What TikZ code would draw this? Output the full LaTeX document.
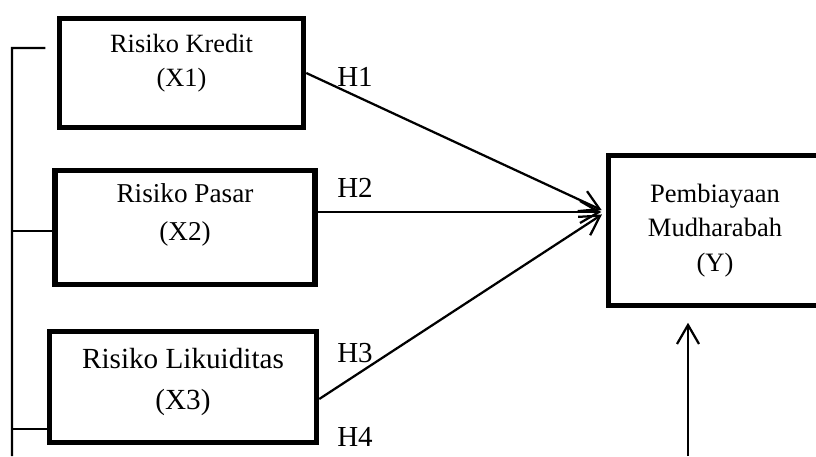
\documentclass[tikz,border=0pt]{standalone}
\usepackage{fontspec}
\setmainfont{Liberation Serif}
\usetikzlibrary{arrows.meta}

\begin{document}
\begin{tikzpicture}[]
  \newcommand{\Xrisk}[0]{ 37mm }
  \newcommand{\Xfin}[0]{ 144.7mm }
  \newcommand{\Xhyp}[0]{ 71mm }
  \newcommand{\Xbar}[0]{ 2.4mm }
  \newcommand{\Xin}[0]{ 137.6mm }

  \tikzstyle{edge}  = [line width=0.45mm,draw=black]
  \tikzstyle{dedge} = [line width=0.45mm,->,>={Straight Barb[length=3.8mm,width=4.4mm]},draw=black]
  \tikzstyle{block}=[
    rectangle,
    draw=black,
    anchor=center,
    inner sep=0mm,
    line width=1.1mm,
  ]
  \tikzstyle{hyp}=[
    anchor=center,
    inner sep=0mm,
    font=\fontsize{16.5}{20}\selectfont,
  ]

  \useasboundingbox (0mm,0mm) rectangle (163.2mm,91.2mm);
  \clip (0mm,0mm) rectangle (163.2mm,91.2mm);

  % #1: prefix
  % #2: position
  % #3: width
  % #4: height
  % #5: text options
  % #6: text
  \newcommand{\buildVarBlock}[6]{
    \node[
      block,
      minimum width=#3,
      minimum height=#4,
    ] (#1) at (#2) {};
    \node[anchor=center,align=center,inner sep=0mm,#5] (#1 text) at (#1.center) {#6};
  }

  % risk variables
  \buildVarBlock{x1}{36.3mm,76.6mm}{48.8mm}{21.8mm}{yshift=2mm,font=\fontsize{15}{19.4}\selectfont}{Risiko Kredit\\(X1)}
  \buildVarBlock{x2}{\Xrisk,45.7mm}{52mm}{22.8mm}{yshift=2.5mm,font=\fontsize{15.5}{21.6}\selectfont}{Risiko Pasar\\(X2)}
  \buildVarBlock{x3}{36.6mm,13.8mm}{53.4mm}{22.2mm}{yshift=1mm,font=\fontsize{16.6}{22.8}\selectfont}{Risiko Likuiditas\\(X3)}

  % financing
  \buildVarBlock{y}{\Xfin,45.1mm}{46mm}{30mm}{xshift=-1.7mm,font=\fontsize{15.1}{19.6}\selectfont}{Pembiayaan\\Mudharabah\\(Y)}

  % hypotheses
  \node[hyp] (h1) at (\Xhyp,75.8mm) {H1};
  \node[hyp] (h2) at (\Xhyp,53.6mm) {H2};
  \node[hyp] (h3) at (\Xhyp,20.6mm) {H3};
  \node[hyp] (h4) at (\Xhyp,3.8mm) {H4};

  % wiring
  \draw[dedge,shorten >=0.9mm] (x1.east) -- ([yshift=3.7mm]y.west);
  \draw[dedge,shorten >=0.9mm] ([yshift=3.1mm]x2.east) -- ([yshift=3.7mm]y.west);
  \draw[dedge,shorten >=0.9mm] ([yshift=-2.4mm]x3.east) -- ([yshift=3.7mm]y.west);

  \coordinate (yin) at (\Xin,0mm);
  \draw[dedge,shorten >=2.9mm] (yin) -- (yin |- y.south);

  % left bracket
  \coordinate (bar top) at (\Xbar,81.6mm);
  \coordinate (bar bot) at (\Xbar,0mm);
  \draw[edge] ([xshift=-2.3mm,yshift=5mm]x1.west) -- (bar top) -- (bar bot);
  \draw[edge] ([yshift=-0.7mm]x2.west) -| (bar bot);
  \draw[edge] ([yshift=-8.4mm]x3.west) -| (bar bot);
\end{tikzpicture}
\end{document}
